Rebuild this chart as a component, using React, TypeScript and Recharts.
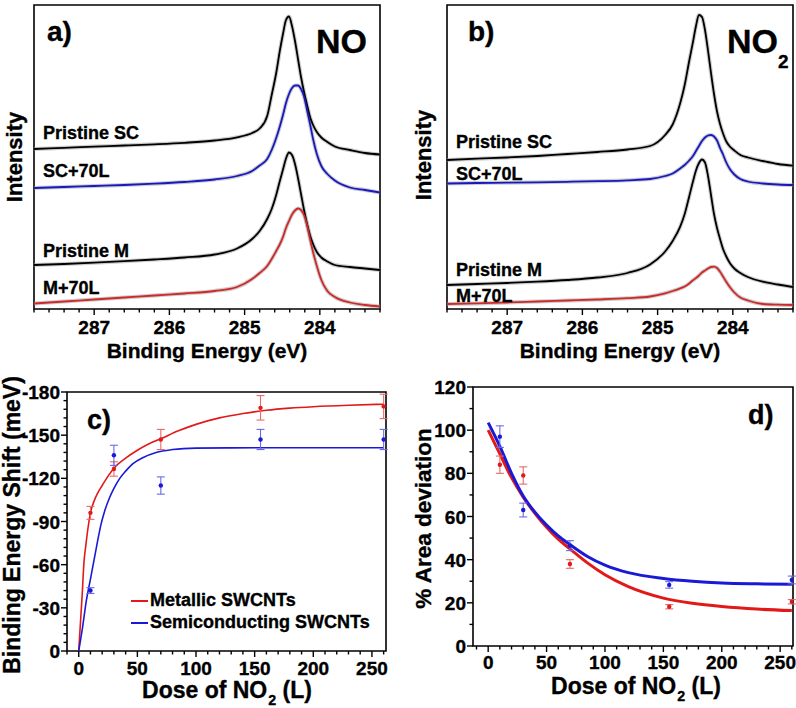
import React from "react";
import {
  ComposedChart,
  Line,
  Scatter,
  ErrorBar,
  XAxis,
  YAxis,
  ReferenceArea,
} from "recharts";

const FONT = "'Liberation Sans', Arial, Helvetica, sans-serif";

// binding energy grid (eV), shared by the two XPS panels
const bindingEnergy = [
  287.8, 287.4, 287.0, 286.6, 286.2, 285.8, 285.4, 285.1, 284.9, 284.8, 284.7,
  284.64, 284.58, 284.53, 284.49, 284.45, 284.41, 284.37, 284.33, 284.29,
  284.25, 284.21, 284.17, 284.13, 284.09, 284.04, 283.98, 283.9, 283.8, 283.6,
  283.4, 283.2,
];

// panel a (NO) - stacked intensities, arbitrary units
const noPristineSC = [
  160, 161.2, 162.4, 163.5, 164.7, 166.2, 168.5, 171.7, 176, 180.5, 193, 214,
  236, 259, 275, 289, 292.5, 283, 268, 250, 232, 217, 204, 192, 184, 177,
  171.5, 167, 162.5, 159, 156, 154.5,
];
const noSC70L = [
  121, 122, 123, 124, 125.3, 127, 129.5, 133, 138, 143.5, 150, 159, 171, 183,
  194, 206, 215, 221, 223.5, 223.5, 220, 212.5, 199, 185, 170, 155, 143, 135,
  128.5, 121.5, 119, 116.5,
];
const noPristineM = [
  44, 45, 46.3, 47.8, 49.5, 51.5, 54.5, 60.5, 70, 78, 90, 100, 114, 128.5,
  139.5, 150.5, 156.5, 154, 145, 131, 115, 99, 85, 73.5, 65, 57, 51.5, 47.5,
  44, 42, 40.5, 39,
];
const noM70L = [
  5.5, 7.5, 9.5, 11.5, 13.5, 15.5, 18, 22, 30, 36, 43, 50, 58, 65, 72, 81, 88,
  94.5, 98.5, 100.5, 99, 94, 84, 70, 57, 43, 29, 18, 12, 6.5, 4, 2.5,
];

// panel b (NO2)
const no2PristineSC = [
  149, 150.3, 151.5, 153, 155, 157, 159.5, 163, 174, 184.5, 205.7, 224, 248,
  267, 283, 294, 292, 279, 258.5, 236, 215, 197.5, 185, 175.5, 168, 162.5,
  158.5, 154, 151.5, 148, 145, 143.3,
];
const no2SC70L = [
  125.5, 126, 126.3, 126.7, 127.2, 127.8, 128.7, 130, 133, 135.5, 140.5, 144,
  148.5, 153, 158, 163, 168, 171.5, 173.5, 174, 172.5, 168.5, 161, 154.5, 147,
  140, 134.5, 130, 127.5, 125.5, 124.5, 124,
];
const no2PristineM = [
  24, 25, 26, 27.3, 29, 31.5, 36, 44.5, 57.5, 68, 82.3, 95, 112.5, 127.5,
  138.5, 146, 149.5, 146.5, 133, 114, 95, 81, 70, 60, 53, 46, 40.5, 36, 32,
  27.3, 24.5, 22,
];
const no2M70L = [
  5, 5.6, 6.5, 7.5, 8.5, 9.5, 10.8, 12.5, 15.7, 18, 20.7, 22.5, 25.5, 28.7, 31,
  33.5, 36.5, 38.5, 40.5, 42, 42.3, 41, 37.3, 32.5, 27.5, 22, 16.5, 11.5, 8.5,
  5, 4.3, 4,
];

const xpsMajorTicks = [287, 286, 285, 284];

// panel c - binding energy shift (meV) vs NO2 dose (L)
const doses = [10, 30, 70, 155, 260];
const metShift = [-96, -126.5, -147, -169, -170];
const metShiftErr = [4.5, 5, 7, 8.5, 8.5];
const semShift = [-42, -136, -115, -147, -147];
const semShiftErr = [2, 7, 6, 7, 7];

const metFitDose = [
  0, 1.5, 3, 4.5, 6, 8, 10, 13, 16, 20, 25, 30, 40, 50, 60, 70, 85, 100, 120,
  140, 160, 180, 200, 230, 260,
];
const metFitShift = [
  0, -20, -40, -62, -73, -86, -96, -104, -109.5, -115, -121.5, -127, -134,
  -139.5, -144, -147.5, -153, -157.5, -162, -165, -167.3, -168.8, -169.8,
  -170.8, -171.5,
];
const semFitDose = [
  0, 3, 6.5, 10, 13, 16, 19, 22, 26, 30, 35, 40, 46, 55, 66, 80, 100, 130, 180,
  260,
];
const semFitShift = [
  0, -15, -35, -50, -63, -76, -88, -97, -106, -113, -120, -125, -130, -134.5,
  -138, -140, -141, -141.2, -141.3, -141.3,
];

// panel d - % area deviation vs dose
const metArea = [84, 79, 38, 18.2, 20.5];
const metAreaErr = [4, 4, 2, 1, 1];
const semArea = [97, 63, 46.5, 28.3, 30.6];
const semAreaErr = [5, 3.2, 2.3, 1.5, 1.8];

const areaFitDose = [
  0, 10, 20, 30, 40, 50, 60, 70, 85, 100, 120, 150, 175, 200, 230, 260,
];
const metFitArea = [
  100, 89, 78, 69, 61.5, 55, 49.5, 45, 38.5, 33, 27.5, 22.2, 19.8, 18.3, 17.1,
  16.4,
];
const semFitArea = [
  103.5, 92.5, 80, 69.5, 62, 56, 51, 47, 41.5, 37.5, 34, 31.3, 30, 29.2, 28.8,
  28.6,
];

const doseMajorTicks = [0, 50, 100, 150, 200, 250];
const shiftMajorTicks = [-180, -150, -120, -90, -60, -30, 0];
const areaMajorTicks = [0, 20, 40, 60, 80, 100, 120];

const RED = "#e11919";
const BLUE = "#1a1ad6";

const steps = (from: number, to: number, step: number) => {
  const out: number[] = [];
  for (let v = from; v <= to + 1e-9; v += step) out.push(Math.round(v * 1000) / 1000);
  return out;
};
const isIn = (v: number, list: number[]) => list.some((m) => Math.abs(m - v) < 1e-6);

// text is a bit heavier in the original, a thin outline thickens it
const bold = { fontFamily: FONT, fontWeight: 700, fill: "#000", stroke: "#000", strokeWidth: 0.35 };

// custom ticks: long tick + label for majors, short tick for minors (tickSize 0 -> x/y is the axis line)
const bottomTick = (major: number[], labelDy: number, fontSize: number) => (p: any) => {
  const v = p.payload.value;
  const big = isIn(v, major);
  return (
    <g>
      <line x1={p.x} x2={p.x} y1={p.y} y2={p.y + (big ? 6 : 3.5)} stroke="#000" strokeWidth={1.4} />
      {big && (
        <text x={p.x} y={p.y + labelDy} textAnchor="middle" fontSize={fontSize} {...bold}>
          {v}
        </text>
      )}
    </g>
  );
};

const leftTick = (major: number[], fontSize: number) => (p: any) => {
  const v = p.payload.value;
  const big = isIn(v, major);
  return (
    <g>
      <line x1={p.x} x2={p.x - (big ? 6 : 3.5)} y1={p.y} y2={p.y} stroke="#000" strokeWidth={1.4} />
      {big && (
        <text x={p.x - 7} y={p.y + 7} textAnchor="end" fontSize={fontSize} {...bold}>
          {v === 0 ? "0" : v}
        </text>
      )}
    </g>
  );
};

const yTitle = (text: string, x: number, y: number, size: number) => () => (
  <text x={x} y={y} transform={`rotate(-90, ${x}, ${y})`} textAnchor="middle" fontSize={size} {...bold}>
    {text}
  </text>
);

const xTitle = (x: number, y: number, size: number, sub: boolean) => () =>
  sub ? (
    <text x={x} y={y} textAnchor="middle" fontSize={size} {...bold}>
      Dose of NO
      <tspan fontSize={size * 0.62} dx={1} dy={7}>2</tspan>
      <tspan dy={-7}> (L)</tspan>
    </text>
  ) : (
    <text x={x} y={y} textAnchor="middle" fontSize={size} {...bold}>
      Binding Energy (eV)
    </text>
  );

const XPS_COLORS = ["#000", "#1818c0", "#000", "#d02828"];

const XpsPanel = ({
  left,
  width,
  right,
  axisWidth,
  series,
  yTitleX,
  yTitleY,
}: {
  left: number;
  width: number;
  right: number;
  axisWidth: number;
  series: number[][];
  yTitleX: number;
  yTitleY: number;
}) => {
  const rows = bindingEnergy.map((e, i) => ({
    e,
    s0: series[0][i],
    s1: series[1][i],
    s2: series[2][i],
    s3: series[3][i],
  }));
  const keys = ["s0", "s1", "s2", "s3"];
  const titleX = axisWidth + 173;
  return (
    <div style={{ position: "absolute", left, top: 0 }}>
      <ComposedChart width={width} height={370} data={rows} margin={{ top: 5, right, bottom: 0, left: 0 }}>
        <XAxis
          dataKey="e"
          type="number"
          domain={[283.2, 287.8]}
          allowDataOverflow
          reversed
          ticks={steps(283.2, 287.8, 0.2)}
          interval={0}
          tickSize={0}
          tickMargin={0}
          tickLine={false}
          axisLine={false}
          height={61}
          tick={bottomTick(xpsMajorTicks, 25, 19)}
          label={{ content: xTitle(titleX, 358, 21, false) }}
        />
        <YAxis
          type="number"
          domain={[0, 304]}
          allowDataOverflow
          width={axisWidth}
          tick={false}
          tickLine={false}
          axisLine={false}
          label={{ content: yTitle("Intensity", yTitleX, yTitleY, 22) }}
        />
        {keys.map((k) => (
          <Line key={k + "pts"} dataKey={k} type="monotone" stroke="#9c9c9c" strokeOpacity={0.5} strokeWidth={4} dot={false} activeDot={false} isAnimationActive={false} />
        ))}
        {keys.map((k, i) => (
          <Line key={k} dataKey={k} type="monotone" stroke={XPS_COLORS[i]} strokeWidth={1.8} dot={false} activeDot={false} isAnimationActive={false} />
        ))}
        <ReferenceArea x1={283.2} x2={287.8} y1={0} y2={304} fill="none" stroke="#000" strokeWidth={1.6} ifOverflow="visible" />
      </ComposedChart>
    </div>
  );
};

const dotShape = (color: string) => (p: any) => <circle cx={p.cx} cy={p.cy} r={2.2} fill={color} />;

const toPoints = (ys: number[], errs: number[]) => doses.map((x, i) => ({ x, y: ys[i], err: errs[i] }));
const toCurve = (xs: number[], ys: number[]) => xs.map((x, i) => ({ x, y: ys[i] }));

const ShiftPanel = () => (
  <div style={{ position: "absolute", left: 0, top: 360 }}>
    <ComposedChart width={396} height={348} margin={{ top: 32, right: 10, bottom: 0, left: 0 }}>
      <XAxis
        dataKey="x"
        type="number"
        domain={[-10, 262]}
        allowDataOverflow
        ticks={steps(-10, 260, 10)}
        interval={0}
        tickSize={0}
        tickMargin={0}
        tickLine={false}
        axisLine={false}
        height={57}
        tick={bottomTick(doseMajorTicks, 24, 19)}
        label={{ content: xTitle(227, 338, 23, true) }}
      />
      <YAxis
        dataKey="y"
        type="number"
        domain={[-180, 0]}
        reversed
        allowDataOverflow
        ticks={steps(-180, 0, 6)}
        interval={0}
        tickSize={0}
        tickMargin={0}
        tickLine={false}
        axisLine={false}
        width={67}
        tick={leftTick(shiftMajorTicks, 19)}
        label={{ content: yTitle("Binding Energy Shift (meV)", 19.5, 165, 23) }}
      />
      <Line data={toCurve(metFitDose, metFitShift)} dataKey="y" name="Metallic SWCNTs" type="monotone" stroke={RED} strokeWidth={1.6} dot={false} activeDot={false} isAnimationActive={false} />
      <Line data={toCurve(semFitDose, semFitShift)} dataKey="y" name="Semiconducting SWCNTs" type="monotone" stroke={BLUE} strokeWidth={1.6} dot={false} activeDot={false} isAnimationActive={false} />
      <Scatter data={toPoints(metShift, metShiftErr)} fill={RED} shape={dotShape(RED)} legendType="none" isAnimationActive={false}>
        <ErrorBar dataKey="err" direction="y" width={4} stroke="#e86a6a" strokeWidth={1.1} />
      </Scatter>
      <Scatter data={toPoints(semShift, semShiftErr)} fill={BLUE} shape={dotShape(BLUE)} legendType="none" isAnimationActive={false}>
        <ErrorBar dataKey="err" direction="y" width={4} stroke="#6a6ae8" strokeWidth={1.1} />
      </Scatter>
      <ReferenceArea x1={-10} x2={262} y1={-180} y2={0} fill="none" stroke="#000" strokeWidth={1.6} ifOverflow="visible" />
    </ComposedChart>
  </div>
);

const AreaPanel = () => (
  <div style={{ position: "absolute", left: 400, top: 360 }}>
    <ComposedChart width={396} height={348} margin={{ top: 27, right: 3, bottom: 0, left: 0 }}>
      <XAxis
        dataKey="x"
        type="number"
        domain={[-13, 261]}
        allowDataOverflow
        ticks={steps(-10, 260, 10)}
        interval={0}
        tickSize={0}
        tickMargin={0}
        tickLine={false}
        axisLine={false}
        height={62}
        tick={bottomTick(doseMajorTicks, 23, 19)}
        label={{ content: xTitle(236, 334, 23, true) }}
      />
      <YAxis
        dataKey="y"
        type="number"
        domain={[0, 120]}
        allowDataOverflow
        ticks={steps(0, 120, 10)}
        interval={0}
        tickSize={0}
        tickMargin={0}
        tickLine={false}
        axisLine={false}
        width={73}
        tick={leftTick(areaMajorTicks, 19)}
        label={{ content: yTitle("% Area deviation", 31, 158.5, 22.5) }}
      />
      <Line data={toCurve(areaFitDose, metFitArea)} dataKey="y" type="monotone" stroke={RED} strokeWidth={3} dot={false} activeDot={false} isAnimationActive={false} />
      <Line data={toCurve(areaFitDose, semFitArea)} dataKey="y" type="monotone" stroke={BLUE} strokeWidth={3} dot={false} activeDot={false} isAnimationActive={false} />
      <Scatter data={toPoints(metArea, metAreaErr)} fill={RED} shape={dotShape(RED)} isAnimationActive={false}>
        <ErrorBar dataKey="err" direction="y" width={4} stroke="#e86a6a" strokeWidth={1.1} />
      </Scatter>
      <Scatter data={toPoints(semArea, semAreaErr)} fill={BLUE} shape={dotShape(BLUE)} isAnimationActive={false}>
        <ErrorBar dataKey="err" direction="y" width={4} stroke="#6a6ae8" strokeWidth={1.1} />
      </Scatter>
      <ReferenceArea x1={-13} x2={261} y1={0} y2={120} fill="none" stroke="#000" strokeWidth={1.6} ifOverflow="visible" />
    </ComposedChart>
  </div>
);

const T = ({ x, y, size, children }: { x: number; y: number; size: number; children: React.ReactNode }) => (
  <text x={x} y={y} fontSize={size} {...bold}>
    {children}
  </text>
);

const Annotations = () => (
  <svg width={796} height={708} style={{ position: "absolute", left: 0, top: 0, pointerEvents: "none" }}>
    <T x={47} y={41} size={28}>a)</T>
    <T x={316} y={53} size={34}>NO</T>
    <T x={43} y={139} size={18}>Pristine SC</T>
    <T x={43} y={177} size={18}>SC+70L</T>
    <T x={43} y={257} size={18}>Pristine M</T>
    <T x={43} y={294} size={18}>M+70L</T>

    <T x={468} y={41} size={28}>b)</T>
    <T x={727} y={53} size={34}>NO</T>
    <T x={778} y={68} size={19}>2</T>
    <T x={456} y={148} size={18}>Pristine SC</T>
    <T x={456} y={180} size={18}>SC+70L</T>
    <T x={456} y={276} size={18}>Pristine M</T>
    <T x={456} y={302} size={18}>M+70L</T>

    <T x={87} y={429} size={27}>c)</T>
    <line x1={131} x2={148} y1={601} y2={601} stroke={RED} strokeWidth={2} />
    <T x={150} y={606} size={18}>Metallic SWCNTs</T>
    <line x1={131} x2={148} y1={623} y2={623} stroke={BLUE} strokeWidth={2} />
    <T x={150} y={628} size={18}>Semiconducting SWCNTs</T>

    <T x={748} y={424} size={27}>d)</T>
  </svg>
);

const App = () => (
  <div style={{ position: "absolute", left: 0, top: 0, width: 796, height: 708, overflow: "hidden", background: "#fff" }}>
    <XpsPanel left={0} width={396} right={16} axisWidth={34} series={[noPristineSC, noSC70L, noPristineM, noM70L]} yTitleX={22} yTitleY={157} />
    <XpsPanel left={401} width={395} right={3} axisWidth={46} series={[no2PristineSC, no2SC70L, no2PristineM, no2M70L]} yTitleX={30} yTitleY={155} />
    <ShiftPanel />
    <AreaPanel />
    <Annotations />
  </div>
);

export default App;
